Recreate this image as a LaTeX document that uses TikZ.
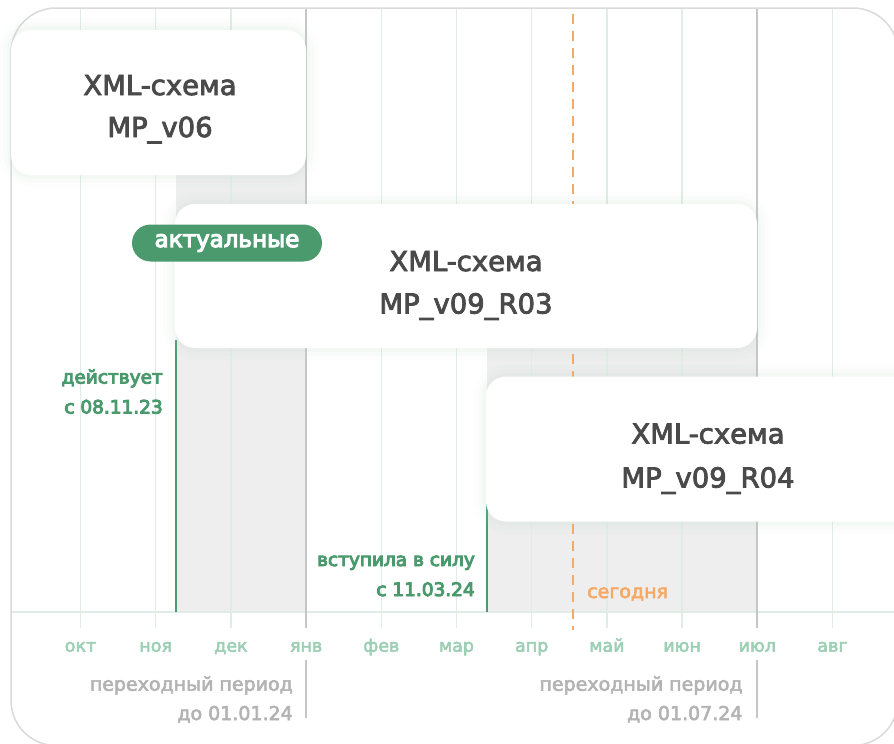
\documentclass[tikz,border=0pt]{standalone}
\usepackage{fontspec}
\setmainfont{DejaVu Sans}
\newfontfamily\fmed{DejaVu Sans}[FakeBold=3]
\newfontfamily\fsemi{DejaVu Sans}[FakeBold=5]
\definecolor{framec}{HTML}{DADADA}
\definecolor{gridc}{HTML}{DFEDE6}
\definecolor{shadec}{HTML}{EEEEEE}
\definecolor{darkline}{HTML}{C6C6C6}
\definecolor{greenc}{HTML}{4A9A6E}
\definecolor{monthc}{HTML}{9DCFB4}
\definecolor{grayt}{HTML}{B3B3B3}
\definecolor{boxt}{HTML}{4A4A4A}
\definecolor{orangec}{HTML}{F7A862}
\definecolor{glowc}{HTML}{B5D9C7}
\begin{document}
\begin{tikzpicture}[x=1pt,y=-1pt,
  gridline/.style={draw=gridc, line width=1.4pt},
  darkgrid/.style={draw=darkline, line width=2pt},
  greenline/.style={draw=greenc, line width=2pt},
  todayline/.style={draw=orangec, line width=2pt, dash pattern=on 10pt off 7pt},
  glow/.style={preaction={draw=glowc, line width=24pt, opacity=0.04},
               preaction={draw=glowc, line width=15pt, opacity=0.05},
               preaction={draw=glowc, line width=7pt, opacity=0.07}},
  schemabox/.style={fill=white, rounded corners=20pt, glow, inner sep=0pt},
  schematext/.style={font=\fmed\fontsize{27.5}{30}\selectfont, text=boxt, anchor=base, inner sep=0pt},
  tagbox/.style={fill=greenc, rounded corners=18.5pt, text=white, inner sep=0pt,
                 minimum width=190pt, minimum height=37pt, font=\fsemi\fontsize{23}{26}\selectfont},
  greenlabel/.style={font=\fsemi\fontsize{18.5}{22}\selectfont, text=greenc, anchor=base east, inner sep=0pt},
  monthlabel/.style={font=\fmed\fontsize{17.5}{21}\selectfont, text=monthc, anchor=base, inner sep=0pt},
  graylabel/.style={font=\fmed\fontsize{19}{22}\selectfont, text=grayt, anchor=base east, inner sep=0pt},
  todaylabel/.style={font=\fmed\fontsize{19}{22}\selectfont, text=orangec, anchor=base west, inner sep=0pt}]
\useasboundingbox (0,0) rectangle (894,744);
\begin{scope}
\clip (0,0) rectangle (894,744);
\fill[white] (0,0) rectangle (894,744);
% shaded transition periods
\fill[shadec] (176,100) rectangle (306,612);
\fill[shadec] (487,300) rectangle (757,612);
% month grid
\foreach \i/\m in {0/окт,1/ноя,2/дек,3/янв,4/фев,5/мар,6/апр,7/май,8/июн,9/июл,10/авг}{
  \pgfmathsetmacro{\xx}{80.5+75.2*\i}
  \draw[gridline] (\xx,9) -- (\xx,628);
  \node[monthlabel] (m\i) at (\xx,651.7) {\m};
}
\draw[gridline] (11,612) -- (894,612);
% transition ends
\draw[darkgrid] (306.1,9) -- (306.1,628);
\draw[darkgrid] (306.1,660) -- (306.1,718);
\draw[darkgrid] (757.3,9) -- (757.3,628);
\draw[darkgrid] (757.3,660) -- (757.3,718);
% effective dates
\draw[greenline] (176,340) -- (176,612);
\draw[greenline] (487,450) -- (487,612);
% today
\draw[todayline] (573,14) -- (573,630);
% frame
\draw[framec, line width=1.5pt, rounded corners=45pt] (11,8) rectangle (898,745.5);
% boxes
\node[schemabox, minimum width=295pt, minimum height=145pt] (box1) at (158.5,102.5) {};
\node[schematext] (b1a) at (160,95) {XML-схема};
\node[schematext] (b1b) at (160,137) {MP\_v06};
\node[schemabox, minimum width=582pt, minimum height=144pt] (box2) at (466,276) {};
\node[schematext] (b2a) at (466,271) {XML-схема};
\node[schematext] (b2b) at (466,313.5) {MP\_v09\_R03};
\node[schemabox, minimum width=444pt, minimum height=145pt] (box3) at (708,449) {};
\node[schematext] (b3a) at (708,443.5) {XML-схема};
\node[schematext] (b3b) at (708,487.5) {MP\_v09\_R04};
\node[tagbox] (tag) at (227,243) {актуальные};
% labels
\node[greenlabel] (l1a) at (163,383.5) {действует};
\node[greenlabel] (l1b) at (163,413.5) {с 08.11.23};
\node[greenlabel] (l2a) at (475,566) {вступила в силу};
\node[greenlabel] (l2b) at (475,596) {с 11.03.24};
\node[todaylabel] (today) at (587,598) {сегодня};
\node[graylabel] (p1a) at (293,690.7) {переходный период};
\node[graylabel] (p1b) at (293,720) {до 01.01.24};
\node[graylabel] (p2a) at (742.7,690.7) {переходный период};
\node[graylabel] (p2b) at (742.7,720) {до 01.07.24};
\end{scope}
\end{tikzpicture}
\end{document}
